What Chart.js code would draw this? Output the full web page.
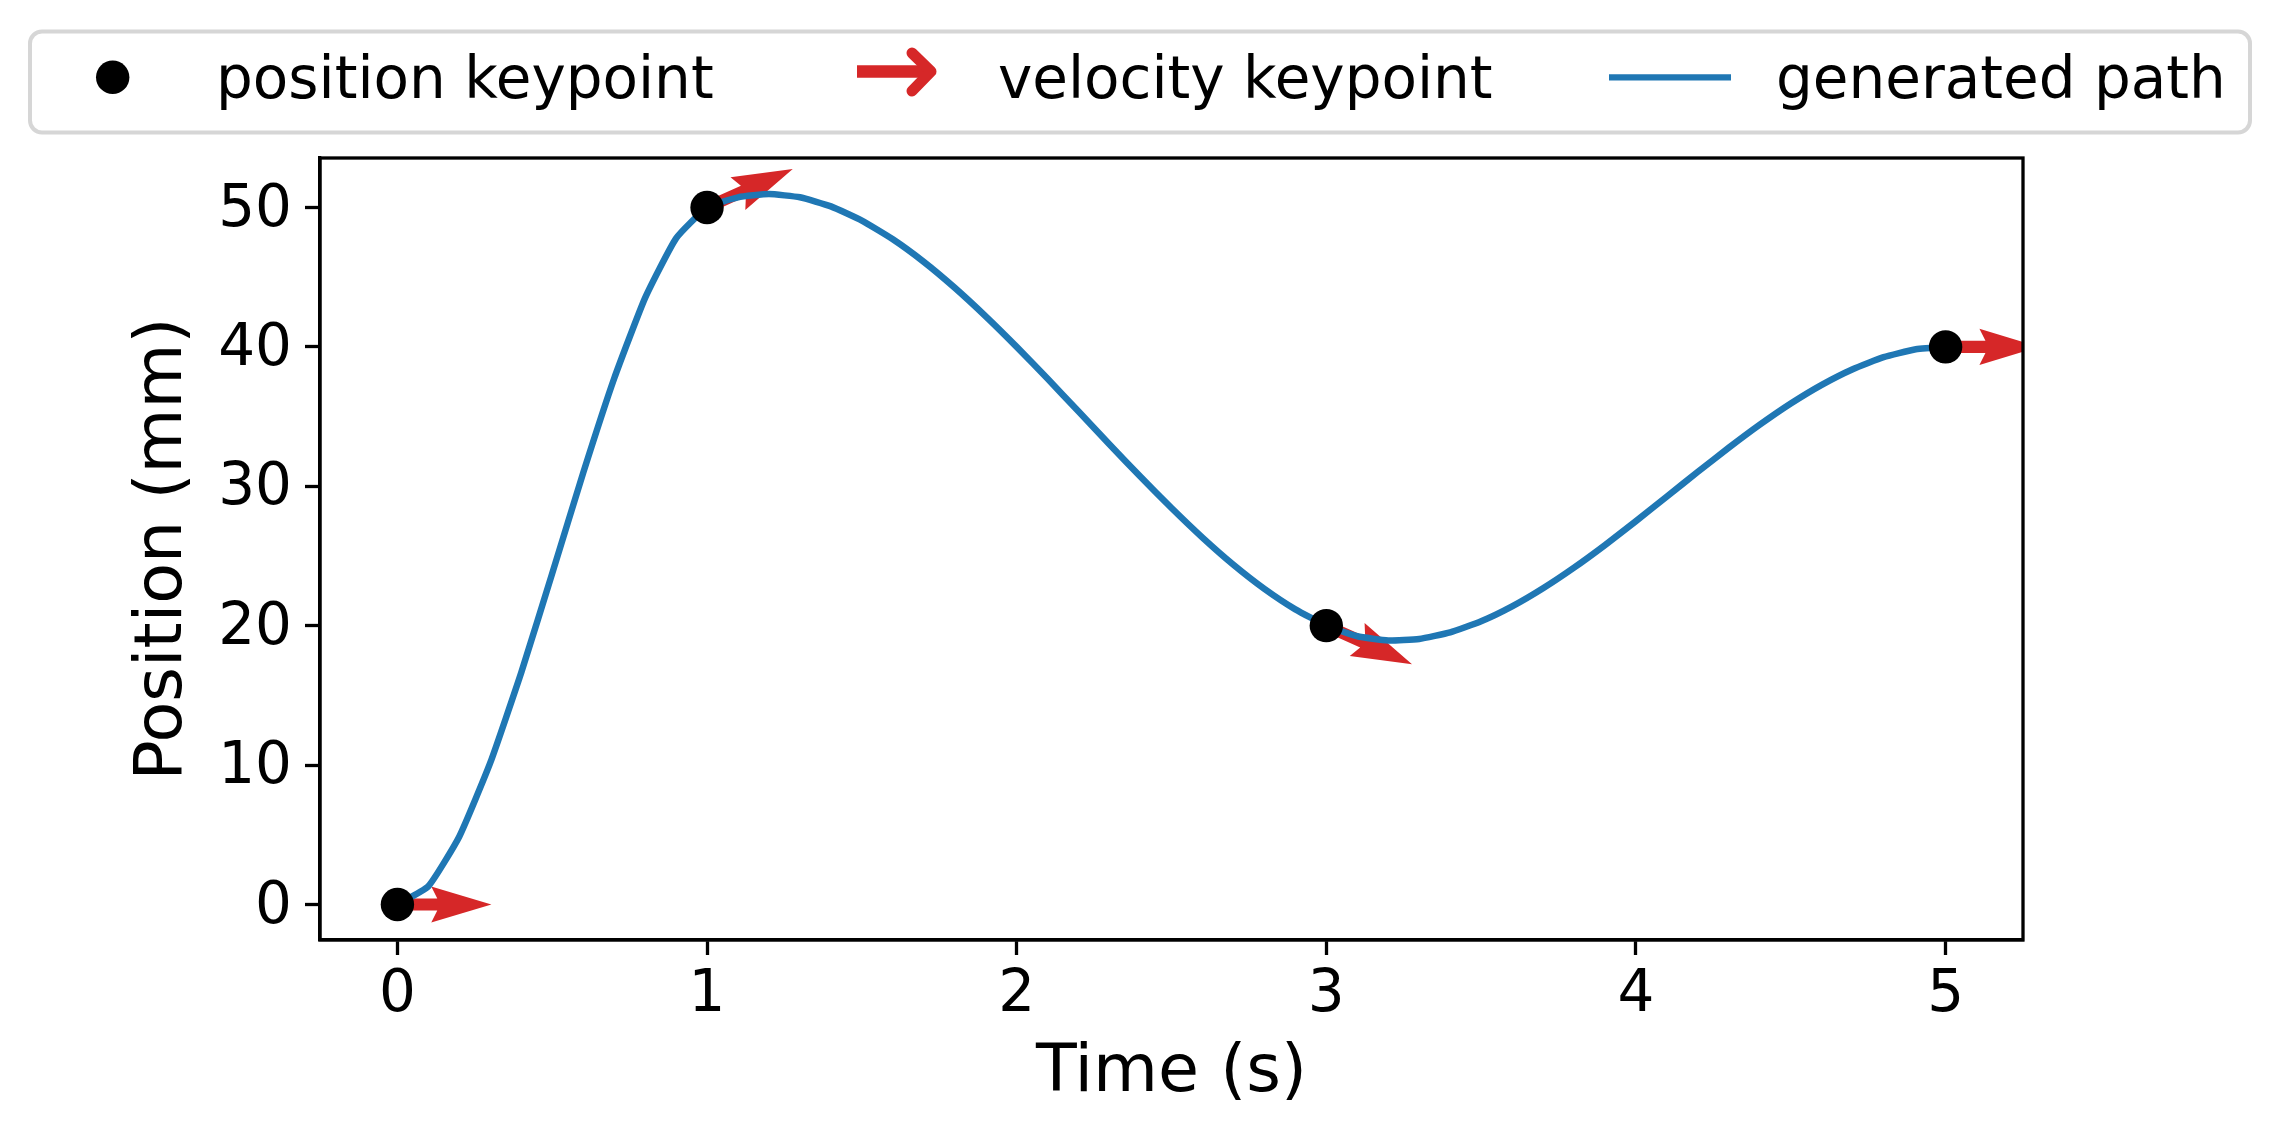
<!DOCTYPE html>
<html>
<head>
<meta charset="utf-8">
<script src="https://cdn.jsdelivr.net/npm/chart.js@4"></script>
<style>
  html, body { margin: 0; padding: 0; background: #ffffff; }
  canvas { display: block; }
</style>
</head>
<body>
<canvas id="c" width="2281" height="1139" style="width:2281px;height:1139px"></canvas>
<script>
// ---- data ----
const keyTimes = [0, 1, 3, 5];
const keyPositions = [0, 50, 20, 40];
const keyVelocities = [0, 10, -10, 0];

const pathTimes = [0.0, 0.1, 0.2, 0.3, 0.4, 0.5, 0.6, 0.7, 0.8, 0.9,
  1.0, 1.1, 1.2, 1.3, 1.4, 1.5, 1.6, 1.7, 1.8, 1.9,
  2.0, 2.1, 2.2, 2.3, 2.4, 2.5, 2.6, 2.7, 2.8, 2.9,
  3.0, 3.1, 3.2, 3.3, 3.4, 3.5, 3.6, 3.7, 3.8, 3.9,
  4.0, 4.1, 4.2, 4.3, 4.4, 4.5, 4.6, 4.7, 4.8, 4.9, 5.0];
const pathPositions = [0.0, 1.31, 4.88, 10.17, 16.64, 23.75, 30.96, 37.73, 43.52, 47.79,
  50.0, 50.73, 50.96, 50.73, 50.08, 49.06, 47.72, 46.10, 44.24, 42.19,
  40.0, 37.71, 35.36, 33.00, 30.68, 28.44, 26.32, 24.37, 22.64, 21.17,
  20.0, 19.24, 18.94, 19.05, 19.52, 20.31, 21.38, 22.68, 24.16, 25.78,
  27.5, 29.27, 31.04, 32.77, 34.42, 35.94, 37.28, 38.40, 39.26, 39.81, 40.0];

const xTickValues = [0, 1, 2, 3, 4, 5];
const yTickValues = [0, 10, 20, 30, 40, 50];
const legendLabels = ['position keypoint', 'velocity keypoint', 'generated path'];
const xTitle = 'Time (s)';
const yTitle = 'Position (mm)';

// ---- styles ----
const FONT = "'DejaVu Sans', 'Liberation Sans', sans-serif";
const BLUE = '#1f77b4';
const RED = '#d62728';

Chart.defaults.font.family = FONT;
Chart.defaults.color = '#000000';

const bgPlugin = {
  id: 'bg',
  beforeDraw(chart) {
    const ctx = chart.ctx;
    ctx.save();
    ctx.fillStyle = '#ffffff';
    ctx.fillRect(0, 0, chart.width, chart.height);
    ctx.restore();
  }
};

const arrowPlugin = {
  id: 'arrows',
  beforeDatasetsDraw(chart) {
    const ctx = chart.ctx;
    const xs = chart.scales.x, ys = chart.scales.y;
    const area = chart.chartArea;
    const L = (area.right - area.left) * 0.0552;
    const w = L * 0.128;
    ctx.save();
    ctx.beginPath();
    ctx.rect(area.left, area.top, area.right - area.left, area.bottom - area.top);
    ctx.clip();
    ctx.fillStyle = RED;
    for (let i = 0; i < keyTimes.length; i++) {
      const px = xs.getPixelForValue(keyTimes[i]);
      const py = ys.getPixelForValue(keyPositions[i]);
      const qx = xs.getPixelForValue(keyTimes[i] + 1);
      const qy = ys.getPixelForValue(keyPositions[i] + keyVelocities[i]);
      let dx = qx - px, dy = qy - py;
      const m = Math.hypot(dx, dy);
      dx /= m; dy /= m;
      const nx = -dy, ny = dx;
      const pts = [
        [0, -w / 2], [L - 4.5 * w, -w / 2], [L - 5 * w, -1.5 * w], [L, 0],
        [L - 5 * w, 1.5 * w], [L - 4.5 * w, w / 2], [0, w / 2]
      ];
      ctx.beginPath();
      pts.forEach((p, k) => {
        const X = px + dx * p[0] + nx * p[1];
        const Y = py + dy * p[0] + ny * p[1];
        if (k === 0) ctx.moveTo(X, Y); else ctx.lineTo(X, Y);
      });
      ctx.closePath();
      ctx.fill();
    }
    ctx.restore();
  }
};

const framePlugin = {
  id: 'frame',
  afterDraw(chart) {
    const ctx = chart.ctx;
    const a = chart.chartArea;
    ctx.save();
    ctx.strokeStyle = '#000000';
    ctx.lineWidth = 3.3;
    ctx.strokeRect(a.left, a.top, a.right - a.left, a.bottom - a.top);

    // legend frame
    const lx = 30, ly = 31.5, lw = 2220, lh = 101, r = 12;
    ctx.beginPath();
    ctx.moveTo(lx + r, ly);
    ctx.lineTo(lx + lw - r, ly);
    ctx.arcTo(lx + lw, ly, lx + lw, ly + r, r);
    ctx.lineTo(lx + lw, ly + lh - r);
    ctx.arcTo(lx + lw, ly + lh, lx + lw - r, ly + lh, r);
    ctx.lineTo(lx + r, ly + lh);
    ctx.arcTo(lx, ly + lh, lx, ly + lh - r, r);
    ctx.lineTo(lx, ly + r);
    ctx.arcTo(lx, ly, lx + r, ly, r);
    ctx.closePath();
    ctx.fillStyle = '#ffffff';
    ctx.fill();
    ctx.strokeStyle = '#d6d6d6';
    ctx.lineWidth = 4;
    ctx.stroke();

    // handle 1: black dot
    ctx.fillStyle = '#000000';
    ctx.beginPath();
    ctx.arc(112.7, 77.3, 16.7, 0, Math.PI * 2);
    ctx.fill();

    // handle 2: red arrow glyph
    ctx.strokeStyle = RED;
    ctx.lineWidth = 12.5;
    ctx.lineCap = 'butt';
    ctx.beginPath();
    ctx.moveTo(857, 71.5);
    ctx.lineTo(928, 71.5);
    ctx.stroke();
    ctx.lineJoin = 'round';
    ctx.lineCap = 'round';
    ctx.lineWidth = 11;
    ctx.beginPath();
    ctx.moveTo(912, 53);
    ctx.lineTo(931, 71.5);
    ctx.lineTo(912, 91);
    ctx.stroke();

    // handle 3: blue line
    ctx.strokeStyle = BLUE;
    ctx.lineWidth = 6.3;
    ctx.lineCap = 'butt';
    ctx.beginPath();
    ctx.moveTo(1609, 77.3);
    ctx.lineTo(1731, 77.3);
    ctx.stroke();

    // texts
    ctx.fillStyle = '#000000';
    ctx.font = '58px ' + FONT;
    ctx.textBaseline = 'alphabetic';
    ctx.textAlign = 'left';
    ctx.fillText(legendLabels[0], 216, 98);
    ctx.fillText(legendLabels[1], 998, 98);
    ctx.fillText(legendLabels[2], 1776, 98);
    ctx.restore();
  }
};

const ctx = document.getElementById('c').getContext('2d');
new Chart(ctx, {
  type: 'scatter',
  data: {
    datasets: [
      {
        label: legendLabels[0],
        data: keyTimes.map((t, i) => ({ x: t, y: keyPositions[i] })),
        pointRadius: 16.7,
        pointHoverRadius: 16.7,
        pointBackgroundColor: '#000000',
        pointBorderWidth: 0,
        borderColor: '#000000',
        showLine: false
      },
      {
        label: legendLabels[2],
        data: pathTimes.map((t, i) => ({ x: t, y: pathPositions[i] })),
        showLine: true,
        pointRadius: 0,
        pointHoverRadius: 0,
        borderColor: BLUE,
        borderWidth: 6.5,
        tension: 0.15,
        fill: false
      }
    ]
  },
  options: {
    responsive: false,
    animation: false,
    devicePixelRatio: 1,
    events: [],
    layout: { padding: { top: 158, right: 258, left: 0, bottom: 0 } },
    plugins: {
      legend: { display: false },
      tooltip: { enabled: false }
    },
    scales: {
      x: {
        type: 'linear',
        position: 'bottom',
        min: -0.25,
        max: 5.25,
        afterBuildTicks(scale) { scale.ticks = xTickValues.map(v => ({ value: v })); },
        afterFit(scale) { scale.height = 199; },
        ticks: {
          font: { size: 58, family: FONT },
          color: '#000000',
          padding: 6,
          maxRotation: 0,
          autoSkip: false,
          callback: v => String(v)
        },
        grid: {
          display: true,
          drawOnChartArea: false,
          drawTicks: true,
          tickLength: 15,
          tickWidth: 3.3,
          tickColor: '#000000'
        },
        border: { display: true, color: '#000000', width: 3.3 },
        title: {
          display: true,
          text: xTitle,
          color: '#000000',
          font: { size: 66.7, family: FONT },
          padding: { top: 0, bottom: 25 }
        }
      },
      y: {
        type: 'linear',
        position: 'left',
        min: -2.55,
        max: 53.55,
        afterBuildTicks(scale) { scale.ticks = yTickValues.map(v => ({ value: v })); },
        afterFit(scale) { scale.width = 320; },
        ticks: {
          font: { size: 58, family: FONT },
          color: '#000000',
          padding: 13,
          labelOffset: 3,
          autoSkip: false,
          callback: v => String(v)
        },
        grid: {
          display: true,
          drawOnChartArea: false,
          drawTicks: true,
          tickLength: 15,
          tickWidth: 3.3,
          tickColor: '#000000'
        },
        border: { display: true, color: '#000000', width: 3.3 },
        title: {
          display: true,
          text: yTitle,
          color: '#000000',
          font: { size: 66.7, family: FONT },
          padding: { top: 124, bottom: 0 }
        }
      }
    }
  },
  plugins: [bgPlugin, arrowPlugin, framePlugin]
});
</script>
</body>
</html>
